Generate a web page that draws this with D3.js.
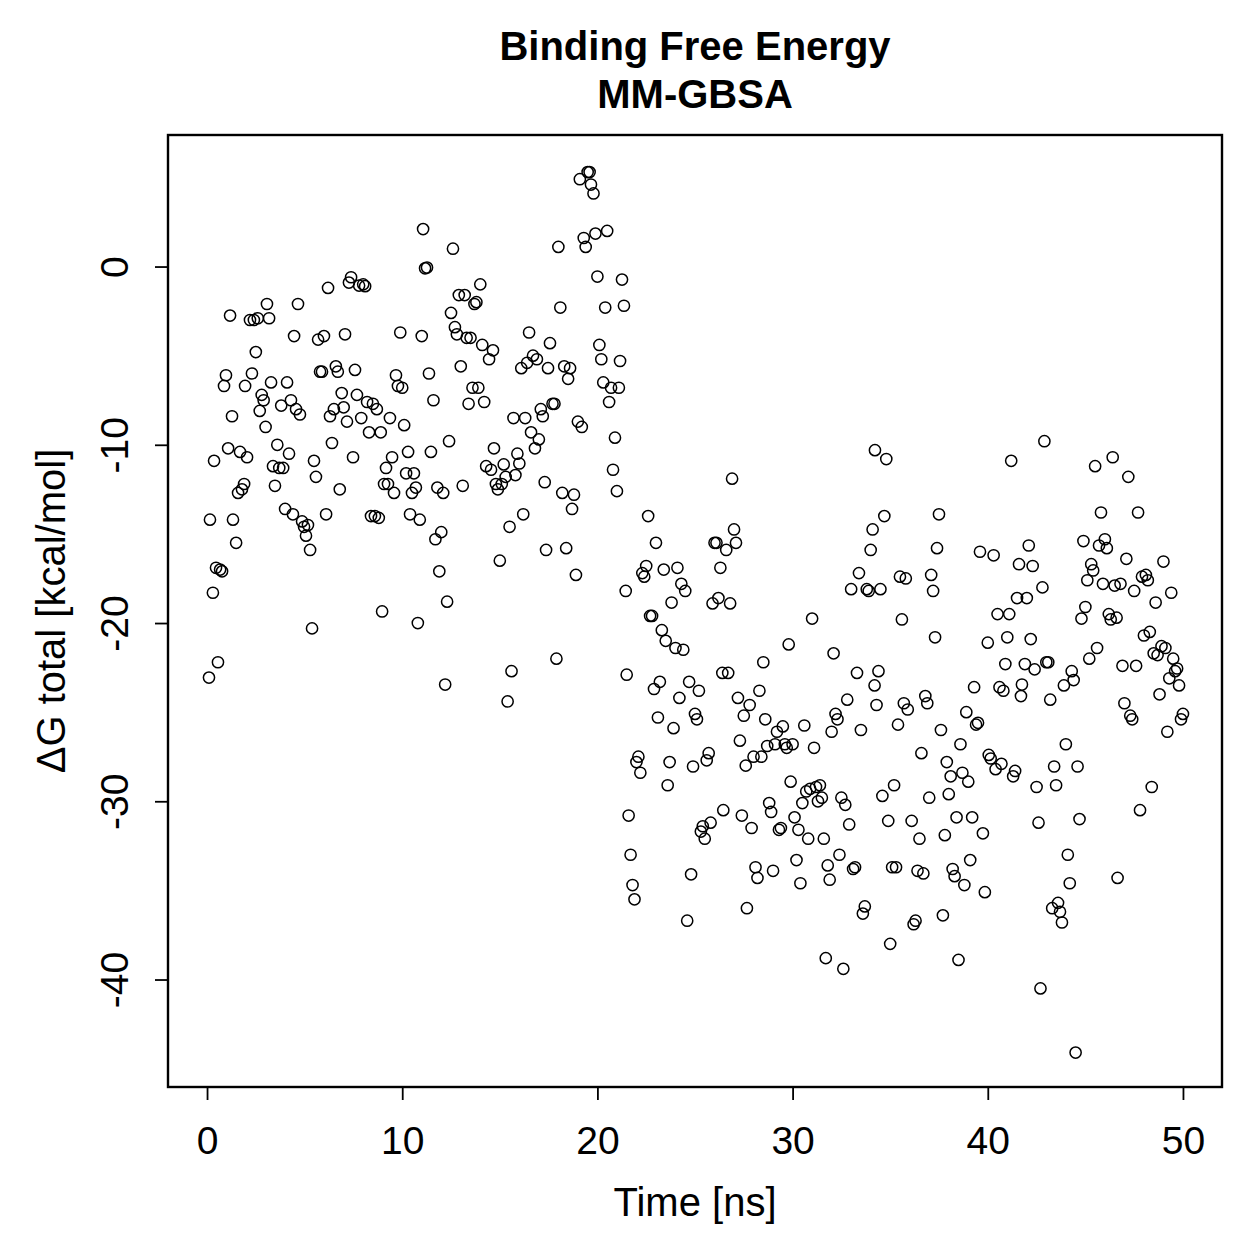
<!DOCTYPE html>
<html>
<head>
<meta charset="utf-8">
<script src="https://cdn.jsdelivr.net/npm/d3@7"></script>
<style>
  html, body { margin: 0; padding: 0; background: #fff; }
  svg { display: block; }
</style>
</head>
<body>
<svg id="chart" width="1259" height="1259"></svg>
<script>
const titleLines = ["Binding Free Energy", "MM-GBSA"];
const xLabel = "Time [ns]";
const yLabel = "\u0394G total [kcal/mol]";
const xTicks = [0, 10, 20, 30, 40, 50];
const yTicks = [-40, -30, -20, -10, 0];

const timeNs = [
  0.1,0.15,0.3,0.36,0.46,0.56,0.67,0.77,0.87,0.97,
  1.08,1.18,1.28,1.33,1.49,1.59,1.69,1.79,1.9,1.95,
  2.05,2.2,2.3,2.4,2.5,2.6,2.7,2.8,2.9,3.0,
  3.07,3.18,3.28,3.38,3.48,3.6,3.7,3.8,3.9,4.0,
  4.1,4.2,4.3,4.4,4.46,4.56,4.66,4.76,4.87,4.97,
  5.07,5.17,5.28,5.38,5.48,5.58,5.69,5.79,5.89,5.99,
  6.1,6.2,6.3,6.4,6.5,6.6,6.7,6.8,6.9,7.0,
  7.07,7.17,7.27,7.38,7.48,7.58,7.68,7.79,7.9,8.0,
  8.1,8.2,8.3,8.4,8.5,8.6,8.7,8.8,8.9,8.97,
  9.07,9.17,9.27,9.37,9.48,9.58,9.68,9.78,9.9,10.0,
  10.1,10.2,10.3,10.4,10.5,10.6,10.7,10.8,10.9,11.0,
  11.07,11.17,11.27,11.37,11.47,11.6,11.7,11.8,11.9,12.0,
  12.1,12.2,12.3,12.4,12.5,12.6,12.7,12.8,12.9,13.0,
  13.1,13.2,13.3,13.4,13.5,13.6,13.7,13.8,13.9,14.0,
  14.1,14.2,14.3,14.45,14.55,14.65,14.7,14.8,14.9,15.0,
  15.1,15.2,15.3,15.4,15.5,15.6,15.7,15.8,15.9,16.0,
  16.1,16.2,16.3,16.4,16.5,16.6,16.7,16.8,16.9,17.0,
  17.1,17.2,17.3,17.37,17.47,17.57,17.7,17.8,17.9,18.0,
  18.1,18.2,18.3,18.4,18.5,18.6,18.7,18.8,18.9,19.0,
  19.1,19.2,19.3,19.4,19.5,19.6,19.67,19.8,19.9,20.0,
  20.1,20.2,20.3,20.4,20.5,20.6,20.7,20.8,20.9,21.0,
  21.1,21.16,21.26,21.36,21.45,21.5,21.6,21.7,21.8,21.9,
  22.0,22.1,22.2,22.3,22.4,22.5,22.6,22.7,22.8,22.9,
  23.0,23.1,23.2,23.3,23.4,23.5,23.6,23.7,23.8,23.9,
  24.0,24.1,24.2,24.3,24.4,24.5,24.6,24.7,24.8,24.9,
  25.0,25.1,25.2,25.3,25.4,25.5,25.6,25.7,25.8,25.9,
  26.0,26.1,26.2,26.3,26.4,26.45,26.6,26.7,26.8,26.9,
  27.0,27.1,27.2,27.3,27.4,27.5,27.6,27.66,27.8,27.9,
  28.0,28.1,28.2,28.3,28.4,28.5,28.6,28.7,28.8,28.9,
  29.0,29.1,29.2,29.3,29.4,29.5,29.6,29.7,29.8,29.9,
  30.0,30.1,30.2,30.3,30.4,30.5,30.6,30.7,30.8,30.9,
  31.0,31.1,31.2,31.3,31.4,31.5,31.6,31.7,31.8,31.9,
  32.0,32.1,32.2,32.3,32.4,32.5,32.6,32.7,32.8,32.9,
  33.0,33.1,33.2,33.3,33.4,33.5,33.6,33.7,33.8,33.9,
  34.0,34.1,34.2,34.22,34.3,34.4,34.5,34.6,34.7,34.8,
  34.9,35.0,35.1,35.2,35.3,35.4,35.5,35.6,35.7,35.8,
  35.9,36.1,36.2,36.3,36.4,36.5,36.6,36.7,36.8,36.9,
  37.0,37.1,37.2,37.3,37.4,37.5,37.6,37.7,37.8,37.9,
  38.0,38.1,38.2,38.3,38.4,38.5,38.6,38.7,38.8,38.9,
  39.0,39.1,39.2,39.3,39.4,39.5,39.6,39.75,39.85,40.0,
  40.05,40.15,40.3,40.4,40.5,40.6,40.7,40.8,40.9,41.0,
  41.1,41.2,41.3,41.4,41.5,41.6,41.7,41.75,41.9,42.0,
  42.1,42.2,42.3,42.4,42.5,42.6,42.7,42.8,42.9,43.0,
  43.1,43.2,43.3,43.4,43.5,43.6,43.7,43.8,43.9,44.0,
  44.1,44.2,44.3,44.4,44.5,44.6,44.7,44.8,44.9,45.0,
  45.1,45.2,45.3,45.4,45.5,45.6,45.7,45.8,45.9,46.0,
  46.1,46.2,46.3,46.4,46.5,46.6,46.65,46.8,46.9,47.0,
  47.1,47.2,47.3,47.4,47.5,47.6,47.7,47.8,47.9,48.0,
  48.1,48.2,48.3,48.4,48.5,48.6,48.7,48.8,48.9,49.0,
  49.1,49.2,49.3,49.4,49.5,49.6,49.7,49.8,49.9,50.0
];

const dGtotal = [
  -23.06,-14.2,-18.3,-10.9,-16.9,-22.2,-17.0,-17.1,-6.7,-6.1,
  -10.2,-2.75,-8.4,-14.2,-15.5,-12.7,-10.4,-12.5,-12.2,-6.7,
  -10.7,-3.0,-6.0,-3.0,-4.8,-2.9,-8.1,-7.2,-7.5,-9.0,
  -2.1,-2.9,-6.5,-11.2,-12.3,-10.0,-11.3,-7.8,-11.3,-13.6,
  -6.5,-10.5,-7.5,-13.9,-3.9,-8.0,-2.1,-8.3,-14.3,-14.6,
  -15.1,-14.5,-15.9,-20.3,-10.9,-11.8,-4.1,-5.9,-5.9,-3.9,
  -13.9,-1.2,-8.4,-9.9,-8.0,-5.6,-5.9,-12.5,-7.1,-7.9,
  -3.8,-8.7,-0.9,-0.6,-10.7,-5.8,-7.2,-1.07,-8.5,-1.0,
  -1.1,-7.6,-9.3,-14.0,-7.7,-14.0,-8.0,-14.1,-9.3,-19.35,
  -12.2,-11.3,-12.2,-8.5,-10.7,-12.7,-6.1,-6.7,-3.7,-6.8,
  -8.9,-11.6,-10.4,-13.9,-12.7,-11.6,-12.4,-20.0,-14.2,-3.9,
  2.1,-0.1,-0.06,-6.0,-10.4,-7.5,-15.3,-12.4,-17.1,-14.9,
  -12.7,-23.45,-18.8,-9.8,-2.6,1.0,-3.4,-3.8,-1.6,-5.6,
  -12.3,-1.6,-4.0,-7.7,-4.0,-6.8,-2.1,-2.0,-6.8,-1.0,
  -4.4,-7.6,-11.2,-5.2,-11.4,-4.7,-10.2,-12.2,-12.5,-16.5,
  -12.2,-11.1,-11.8,-24.4,-14.6,-22.7,-8.5,-11.7,-10.5,-11.05,
  -5.7,-13.9,-8.5,-5.4,-3.7,-9.3,-5.0,-10.2,-5.2,-9.7,
  -8.0,-8.4,-12.1,-15.9,-5.7,-4.3,-7.7,-7.7,-22.0,1.1,
  -2.3,-12.7,-5.6,-15.8,-6.3,-5.7,-13.6,-12.8,-17.3,-8.7,
  4.9,-9.0,1.6,1.1,5.3,5.3,4.6,4.1,1.85,-0.56,
  -4.4,-5.2,-6.5,-2.3,2.0,-7.6,-6.8,-11.4,-9.6,-12.6,
  -6.8,-5.3,-0.73,-2.2,-18.2,-22.9,-30.8,-33.0,-34.7,-35.5,
  -27.8,-27.5,-28.4,-17.2,-17.4,-16.8,-14.0,-19.6,-19.6,-23.7,
  -15.5,-25.3,-23.3,-20.4,-17.0,-21.0,-29.1,-27.8,-18.85,-25.9,
  -21.4,-16.9,-24.2,-17.8,-21.5,-18.2,-36.7,-23.3,-34.1,-28.05,
  -25.1,-25.4,-23.8,-31.7,-31.4,-32.1,-27.7,-27.3,-31.2,-18.9,
  -15.5,-15.5,-18.6,-16.9,-22.8,-30.5,-15.9,-22.8,-18.9,-11.9,
  -14.75,-15.5,-24.2,-26.6,-30.8,-25.2,-28.0,-36.0,-24.6,-31.5,
  -27.5,-33.7,-34.3,-23.8,-27.5,-22.2,-25.4,-26.9,-30.1,-30.6,
  -33.9,-26.8,-26.1,-31.6,-31.5,-25.8,-26.8,-27.0,-21.2,-28.9,
  -26.8,-30.9,-33.3,-31.6,-34.6,-30.1,-25.75,-29.45,-32.1,-29.3,
  -19.75,-27.0,-29.2,-30.0,-29.1,-29.8,-32.1,-38.8,-33.6,-34.4,
  -26.1,-21.7,-25.1,-25.4,-33.0,-29.8,-39.4,-30.2,-24.3,-31.3,
  -18.1,-33.8,-33.7,-22.8,-17.2,-26.0,-36.3,-35.9,-18.1,-18.2,
  -15.9,-14.75,-23.5,-10.3,-24.6,-22.7,-18.1,-29.7,-14.0,-10.8,
  -31.1,-38.0,-33.7,-29.1,-33.7,-25.7,-17.4,-19.8,-24.5,-17.5,
  -24.85,-31.1,-36.9,-36.7,-33.9,-32.1,-27.3,-34.05,-24.1,-24.5,
  -29.8,-17.3,-18.2,-20.8,-15.8,-13.9,-26.0,-36.4,-31.9,-27.8,
  -29.6,-28.6,-33.8,-34.2,-30.9,-38.9,-26.8,-28.4,-34.7,-25.0,
  -28.9,-33.3,-30.9,-23.6,-25.7,-25.6,-16.0,-31.8,-35.1,-21.1,
  -27.4,-27.6,-16.2,-28.2,-19.5,-23.6,-27.9,-23.8,-22.3,-20.8,
  -19.5,-10.9,-28.6,-28.3,-18.6,-16.7,-24.1,-23.45,-22.3,-18.6,
  -15.65,-20.9,-16.8,-22.6,-29.2,-31.2,-40.5,-18.0,-9.8,-22.2,
  -22.2,-24.3,-36.0,-28.05,-29.1,-35.7,-36.2,-36.8,-23.5,-26.8,
  -33.0,-34.6,-22.7,-23.2,-44.1,-28.05,-31.0,-19.75,-15.4,-19.1,
  -17.6,-22.0,-16.7,-17.05,-11.2,-21.4,-15.65,-13.8,-17.8,-15.3,
  -15.8,-19.5,-19.8,-10.7,-17.9,-19.7,-34.3,-17.8,-22.4,-24.5,
  -16.4,-11.8,-25.2,-25.4,-18.2,-22.4,-13.8,-30.5,-17.4,-20.7,
  -17.3,-17.6,-20.5,-29.2,-21.7,-18.85,-21.8,-24.0,-21.3,-16.55,
  -21.4,-26.1,-23.1,-18.3,-22.0,-22.7,-22.55,-23.5,-25.4,-25.1
];

(function () {
  const points = timeNs.map((t, i) => ({ t, v: dGtotal[i] }));

  const FONT = "'Liberation Sans', Arial, Helvetica, sans-serif";
  const svg = d3.select("#chart");
  svg.append("rect").attr("width", 1259).attr("height", 1259).attr("fill", "#fff");

  const pL = 168, pR = 1222, pT = 135, pB = 1087;

  const x = d3.scaleLinear().domain([-2, 52]).range([pL, pR]);
  const y = d3.scaleLinear().domain([-46.03, 7.38]).range([pB, pT]);
  const fmt = d => String(d); // plain hyphen-minus, as in the reference

  // points
  svg.append("g")
    .selectAll("circle")
    .data(points)
    .join("circle")
    .attr("cx", d => x(d.t))
    .attr("cy", d => y(d.v))
    .attr("r", 5.6)
    .attr("fill", "none")
    .attr("stroke", "#000")
    .attr("stroke-width", 1.5);

  // x axis
  const gx = svg.append("g")
    .attr("transform", `translate(0,${pB})`)
    .call(d3.axisBottom(x).tickValues(xTicks).tickSize(13).tickFormat(fmt));
  gx.select(".domain").remove();
  gx.selectAll(".tick line").attr("stroke", "#000").attr("stroke-width", 1.8);
  gx.selectAll(".tick text")
    .attr("y", 67).attr("dy", 0)
    .attr("font-family", FONT).attr("font-size", 39).attr("fill", "#000");

  // y axis
  const gy = svg.append("g")
    .attr("transform", `translate(${pL},0)`)
    .call(d3.axisLeft(y).tickValues(yTicks).tickSize(13).tickFormat(fmt));
  gy.select(".domain").remove();
  gy.selectAll(".tick line").attr("stroke", "#000").attr("stroke-width", 1.8);
  gy.selectAll(".tick text")
    .attr("x", 0).attr("y", 0).attr("dy", 0)
    .attr("text-anchor", "middle")
    .attr("transform", "translate(-40,0) rotate(-90)")
    .attr("font-family", FONT).attr("font-size", 39).attr("fill", "#000");

  // box
  svg.append("rect")
    .attr("x", pL).attr("y", pT)
    .attr("width", pR - pL).attr("height", pB - pT)
    .attr("fill", "none").attr("stroke", "#000").attr("stroke-width", 2.4);

  // title
  const cx = (pL + pR) / 2;
  svg.append("text").attr("x", cx).attr("y", 60)
    .attr("text-anchor", "middle").attr("font-family", FONT)
    .attr("font-weight", "bold").attr("font-size", 40).text(titleLines[0]);
  svg.append("text").attr("x", cx).attr("y", 108)
    .attr("text-anchor", "middle").attr("font-family", FONT)
    .attr("font-weight", "bold").attr("font-size", 40).text(titleLines[1]);

  // axis labels
  svg.append("text").attr("x", cx).attr("y", 1216)
    .attr("text-anchor", "middle").attr("font-family", FONT)
    .attr("font-size", 40).text(xLabel);
  svg.append("text")
    .attr("transform", `translate(65,${(pT + pB) / 2}) rotate(-90)`)
    .attr("text-anchor", "middle").attr("font-family", FONT)
    .attr("font-size", 40).text(yLabel);
})();
</script>
</body>
</html>
